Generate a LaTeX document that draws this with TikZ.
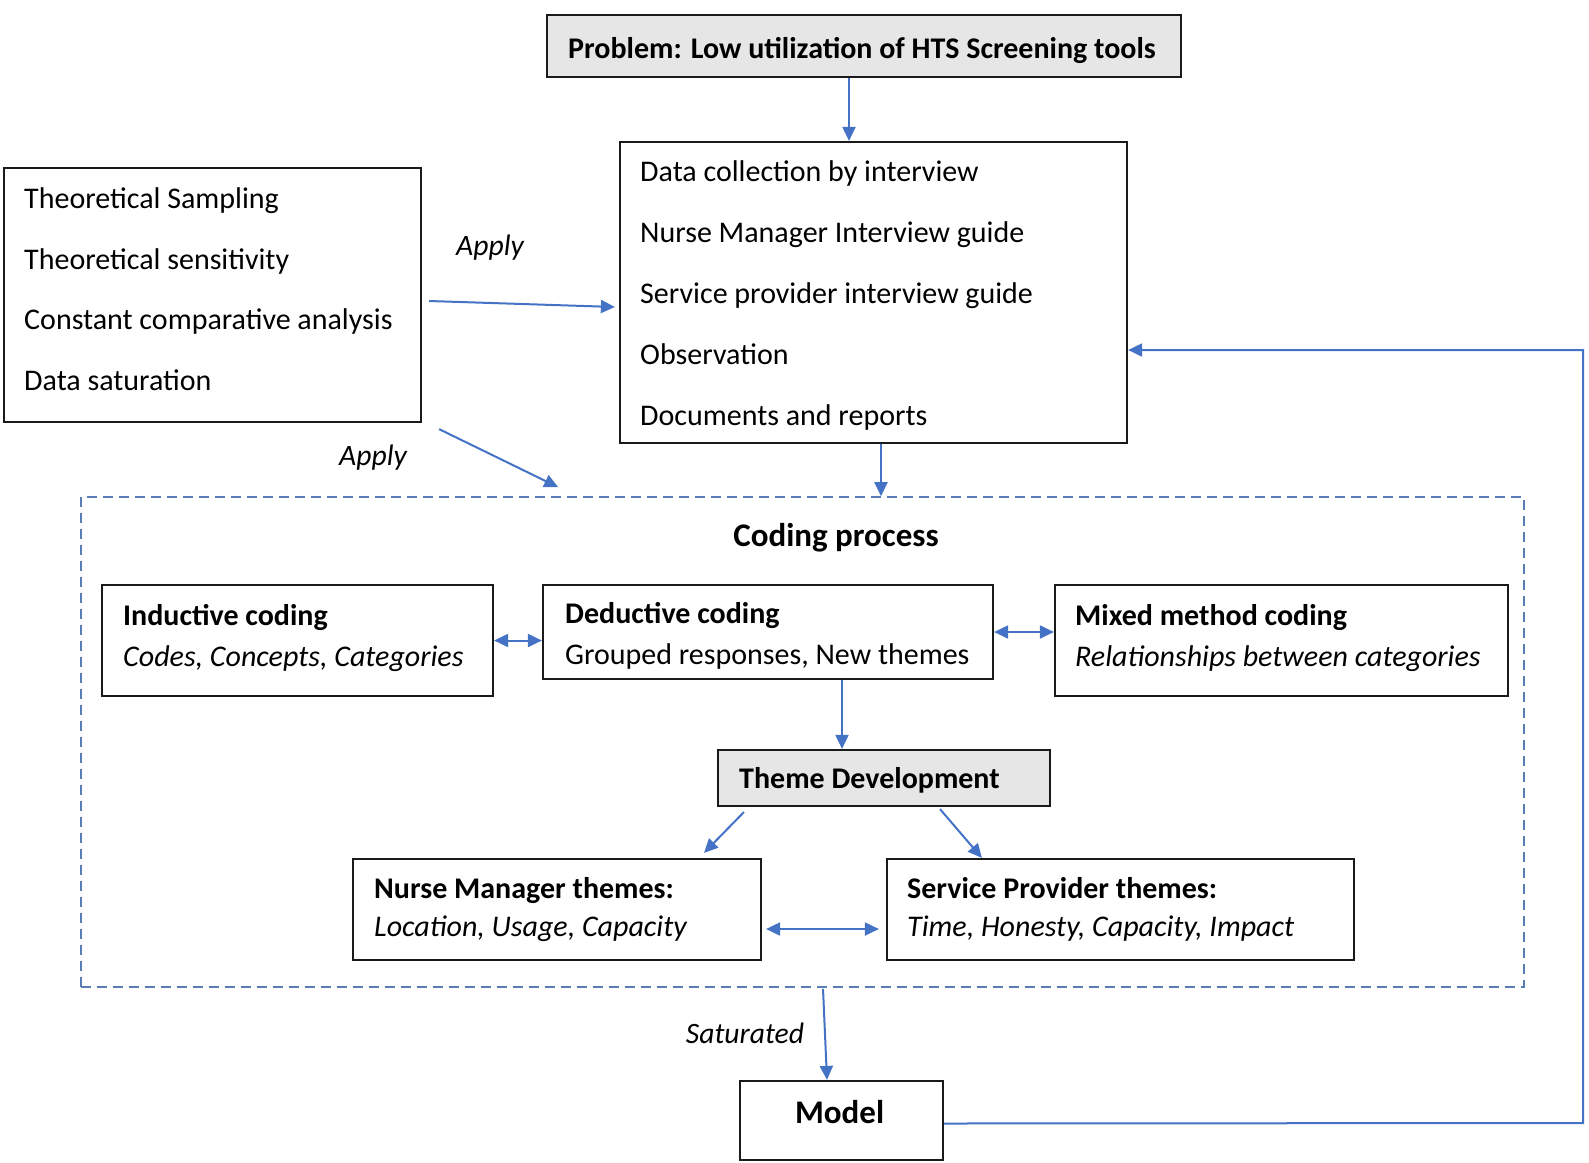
\documentclass[tikz,border=0pt]{standalone}
\usepackage{fontspec}
\setmainfont{Carlito}
\usetikzlibrary{arrows.meta,calc}
\definecolor{arrblue}{HTML}{4472C4}
\definecolor{dashblue}{HTML}{5B7DB5}
\definecolor{boxgray}{HTML}{E7E6E6}
\definecolor{boxline}{HTML}{1A1A1A}
\tikzset{
  box/.style={draw=boxline, line width=2.2pt, fill=white, inner sep=0pt},
  txt/.style={inner sep=0pt, anchor=west, align=left},
  arr/.style={draw=arrblue, line width=2pt, -{Triangle[length=14pt,width=13pt]}},
  darr/.style={draw=arrblue, line width=2pt, {Triangle[length=14pt,width=13pt]}-{Triangle[length=14pt,width=13pt]}},
  lbl/.style={font=\fontsize{29.6}{36}\selectfont\itshape, inner sep=0pt},
}
\begin{document}
\begin{tikzpicture}[x=1pt,y=-1pt]
\useasboundingbox (0,0) rectangle (1589,1162);
% dashed coding region
\node[draw=dashblue, line width=1.6pt, dash pattern=on 10pt off 6pt, minimum width=1443pt, minimum height=490pt, inner sep=0pt] (coding) at (802.5,742) {};
\node[font=\fontsize{33}{40}\selectfont\bfseries, inner sep=0pt] (ctitle) at (836,538) {Coding process};

% boxes
\node[box, fill=boxgray, line width=2.5pt, minimum width=634pt, minimum height=62pt] (prob) at (864,46) {};
\node[box, minimum width=507pt, minimum height=301pt] (data) at (873.5,292.5) {};
\node[box, minimum width=417pt, minimum height=254pt] (left) at (212.5,295) {};
\node[box, minimum width=391pt, minimum height=111pt] (ind) at (297.5,640.5) {};
\node[box, minimum width=450pt, minimum height=94pt] (ded) at (768,632) {};
\node[box, minimum width=453pt, minimum height=111pt] (mixed) at (1281.5,640.5) {};
\node[box, fill=boxgray, minimum width=332pt, minimum height=56pt] (theme) at (884,778) {};
\node[box, minimum width=408pt, minimum height=101pt] (nm) at (557,909.5) {};
\node[box, minimum width=467pt, minimum height=101pt] (sp) at (1120.5,909.5) {};
\node[box, minimum width=203pt, minimum height=79pt] (model) at (841.5,1120.5) {};

% texts
\node[inner sep=0pt, font=\fontsize{30}{36}\selectfont\bfseries] (probT) at (862,50) {Problem: Low utilization of HTS Screening tools};
\node[txt, font=\fontsize{30}{60.8}\selectfont] (dataT) at (640,295.5) {Data collection by interview\\Nurse Manager Interview guide\\Service provider interview guide\\Observation\\Documents and reports};
\node[txt, font=\fontsize{30}{60.5}\selectfont] (leftT) at (24,289) {Theoretical Sampling\\Theoretical sensitivity\\Constant comparative analysis\\Data saturation};
\node[txt, font=\fontsize{30}{40.5}\selectfont] (indT) at (123,638) {\textbf{Inductive coding}\\\textit{Codes, Concepts, Categories}};
\node[txt, font=\fontsize{30}{40.5}\selectfont] (dedT) at (565,636) {\textbf{Deductive coding}\\Grouped responses, New themes};
\node[txt, font=\fontsize{30}{40.5}\selectfont] (mixedT) at (1075,638) {\textbf{Mixed method coding}\\\textit{Relationships between categories}};
\node[txt, font=\fontsize{30}{36}\selectfont\bfseries] (themeT) at (739,780.5) {Theme Development};
\node[txt, font=\fontsize{30}{37.5}\selectfont] (nmT) at (374,909.5) {\textbf{Nurse Manager themes:}\\\textit{Location, Usage, Capacity}};
\node[txt, font=\fontsize{30}{37.5}\selectfont] (spT) at (907,909.5) {\textbf{Service Provider themes:}\\\textit{Time, Honesty, Capacity, Impact}};
\node[inner sep=0pt, font=\fontsize{33}{40}\selectfont\bfseries] (modelT) at (839.6,1112) {Model};

% labels
\node[lbl] (apply1) at (490,248) {Apply};
\node[lbl] (apply2) at (373,458) {Apply};
\node[lbl] (sat) at (745,1033) {Saturated};

% connectors
\draw[arr] ([xshift=-15pt]prob.south) -- ([xshift=-15pt]prob.south |- data.north);
\draw[arr] ($(left.east)+(7,6)$) -- ($(data.west)+(-4,14.5)$);
\draw[arr] ($(left.south east)+(17,6)$) -- ($(coding.north west)+(478,-9)$);
\draw[arr] ([xshift=7.5pt]data.south) -- ([xshift=7.5pt]data.south |- coding.north);
\draw[darr] (ind.east) -- (ind.east -| ded.west);
\draw[darr] (ded.east) -- (ded.east -| mixed.west);
\draw[arr] ([xshift=74pt]ded.south) -- ([xshift=74pt]ded.south |- theme.north);
\draw[arr] ($(theme.south west)+(27,5)$) -- ($(nm.north)+(147,-5)$);
\draw[arr] ($(theme.south)+(56,2)$) -- ($(sp.north west)+(96,0)$);
\draw[darr] ($(nm.east)+(4,19.5)$) -- ($(sp.west)+(-7,19.5)$);
\draw[arr] ($(coding.south)+(20.5,1)$) -- ($(model.north)+(-14.5,0)$);
\coordinate (loopc) at (1583,1123);
\draw[arr] ([yshift=-3pt]model.east) -- (loopc) |- ([yshift=-57.5pt]data.east);
\end{tikzpicture}
\end{document}
